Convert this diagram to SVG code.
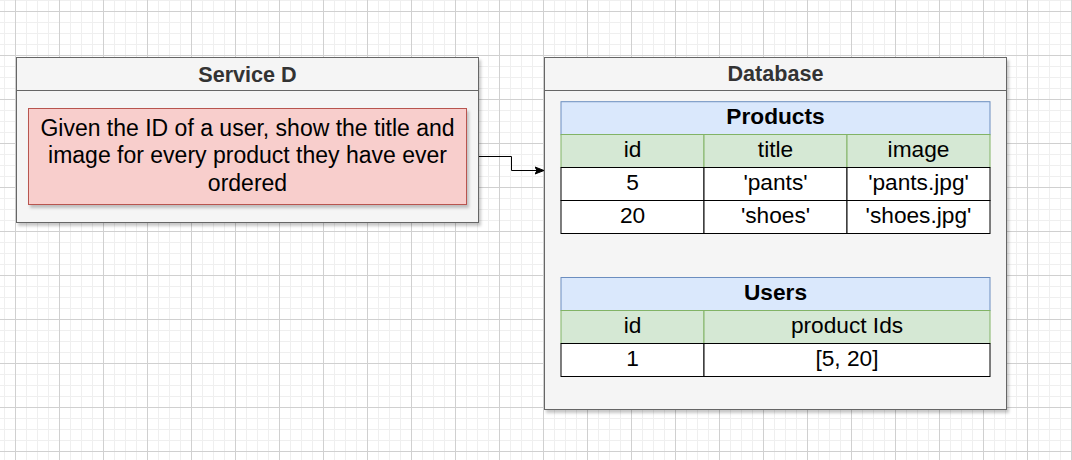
<svg xmlns="http://www.w3.org/2000/svg" width="1072" height="460" viewBox="0 0 1072 460">
  <style>
    .container { fill: #f5f5f5; stroke: #666666; stroke-width: 1; }
    .ctitle { font-family: "Liberation Sans", Arial, sans-serif; font-size: 21.6px; font-weight: bold; fill: #333333; text-anchor: middle; }
    .body { font-family: "Liberation Sans", Arial, sans-serif; font-size: 22.7px; fill: #000000; text-anchor: middle; }
    .note-text { font-size: 23px; }
    .ttitle { font-family: "Liberation Sans", Arial, sans-serif; font-size: 22.7px; font-weight: bold; fill: #000000; text-anchor: middle; }
    .tt { fill: #dae8fc; stroke: #6c8ebf; stroke-width: 1; }
    .th { fill: #d5e8d4; stroke: #82b366; stroke-width: 1; }
    .td { fill: #ffffff; stroke: #000000; stroke-width: 1; }
    .note { fill: #f8cecc; stroke: #b85450; stroke-width: 1; }
    .conn { fill: none; stroke: #000000; stroke-width: 1; }
  </style>
  <defs>
    <pattern id="grid" patternUnits="userSpaceOnUse" x="15" y="11" width="44" height="44">
      <path d="M11.5 0V44M22.5 0V44M33.5 0V44M0 11.5H44M0 22.5H44M0 33.5H44" stroke="#efefef" stroke-width="1" fill="none"/>
      <path d="M0.5 0V44M0 0.5H44" stroke="#d0d0d0" stroke-width="1" fill="none"/>
    </pattern>
    <filter id="shadow" x="-5%" y="-5%" width="115%" height="115%">
      <feDropShadow dx="2" dy="3" stdDeviation="1.5" flood-color="#000000" flood-opacity="0.22"/>
    </filter>
    <marker id="arrow" markerUnits="userSpaceOnUse" markerWidth="12" markerHeight="10" refX="9" refY="5" orient="auto">
      <path d="M0 1.5L9 5L0 8.5L2 5Z" fill="#000000" stroke="#000000" stroke-width="1"/>
    </marker>
  </defs>

  <rect width="1072" height="460" fill="#ffffff"/>
  <rect width="1072" height="460" fill="url(#grid)"/>

  <g id="service-d">
    <rect class="container" x="16.5" y="57.5" width="462" height="165" filter="url(#shadow)"/>
    <line x1="16.5" y1="90.5" x2="478.5" y2="90.5" stroke="#666666" stroke-width="1"/>
    <text class="ctitle" x="247.5" y="81.5">Service D</text>
  </g>

  <g id="service-d-task">
    <rect class="note" x="28.5" y="108.5" width="438" height="96" filter="url(#shadow)"/>
    <text class="body note-text" x="247.5" y="136">Given the ID of a user, show the title and</text>
    <text class="body note-text" x="247.5" y="163.3">image for every product they have ever</text>
    <text class="body note-text" x="247.5" y="190.5">ordered</text>
  </g>

  <g id="database">
    <rect class="container" x="544.5" y="57.5" width="462" height="352" filter="url(#shadow)"/>
    <line x1="544.5" y1="90.5" x2="1006.5" y2="90.5" stroke="#666666" stroke-width="1"/>
    <text class="ctitle" x="775.5" y="81">Database</text>
  </g>

  <g id="products-table">
    <rect class="tt" x="561" y="101.7" width="429" height="33"/>
    <text class="ttitle" x="775.5" y="124.2">Products</text>
    <rect class="th" x="561" y="134.5" width="143" height="33"/>
    <rect class="th" x="704" y="134.5" width="143" height="33"/>
    <rect class="th" x="847" y="134.5" width="143" height="33"/>
    <text class="body" x="632.5" y="157.3">id</text>
    <text class="body" x="775.5" y="157.3">title</text>
    <text class="body" x="918.5" y="157.3">image</text>
    <rect class="td" x="561" y="167.5" width="143" height="33"/>
    <rect class="td" x="704" y="167.5" width="143" height="33"/>
    <rect class="td" x="847" y="167.5" width="143" height="33"/>
    <text class="body" x="632.5" y="190.2">5</text>
    <text class="body" x="775.5" y="190.2">'pants'</text>
    <text class="body" x="918.5" y="190.2">'pants.jpg'</text>
    <rect class="td" x="561" y="200.5" width="143" height="33"/>
    <rect class="td" x="704" y="200.5" width="143" height="33"/>
    <rect class="td" x="847" y="200.5" width="143" height="33"/>
    <text class="body" x="632.5" y="223.3">20</text>
    <text class="body" x="775.5" y="223.3">'shoes'</text>
    <text class="body" x="918.5" y="223.3">'shoes.jpg'</text>
  </g>

  <g id="users-table">
    <rect class="tt" x="561" y="277.5" width="429" height="33"/>
    <text class="ttitle" x="775.5" y="299.5">Users</text>
    <rect class="th" x="561" y="310.5" width="143" height="33"/>
    <rect class="th" x="704" y="310.5" width="286" height="33"/>
    <text class="body" x="632.5" y="332.8">id</text>
    <text class="body" x="847" y="332.8">product Ids</text>
    <rect class="td" x="561" y="343.5" width="143" height="33"/>
    <rect class="td" x="704" y="343.5" width="286" height="33"/>
    <text class="body" x="632.5" y="366">1</text>
    <text class="body" x="847" y="366">[5, 20]</text>
  </g>

  <g id="connectors">
    <path class="conn" d="M479 156.5H511.5V170.5H544" marker-end="url(#arrow)"/>
  </g>
</svg>
